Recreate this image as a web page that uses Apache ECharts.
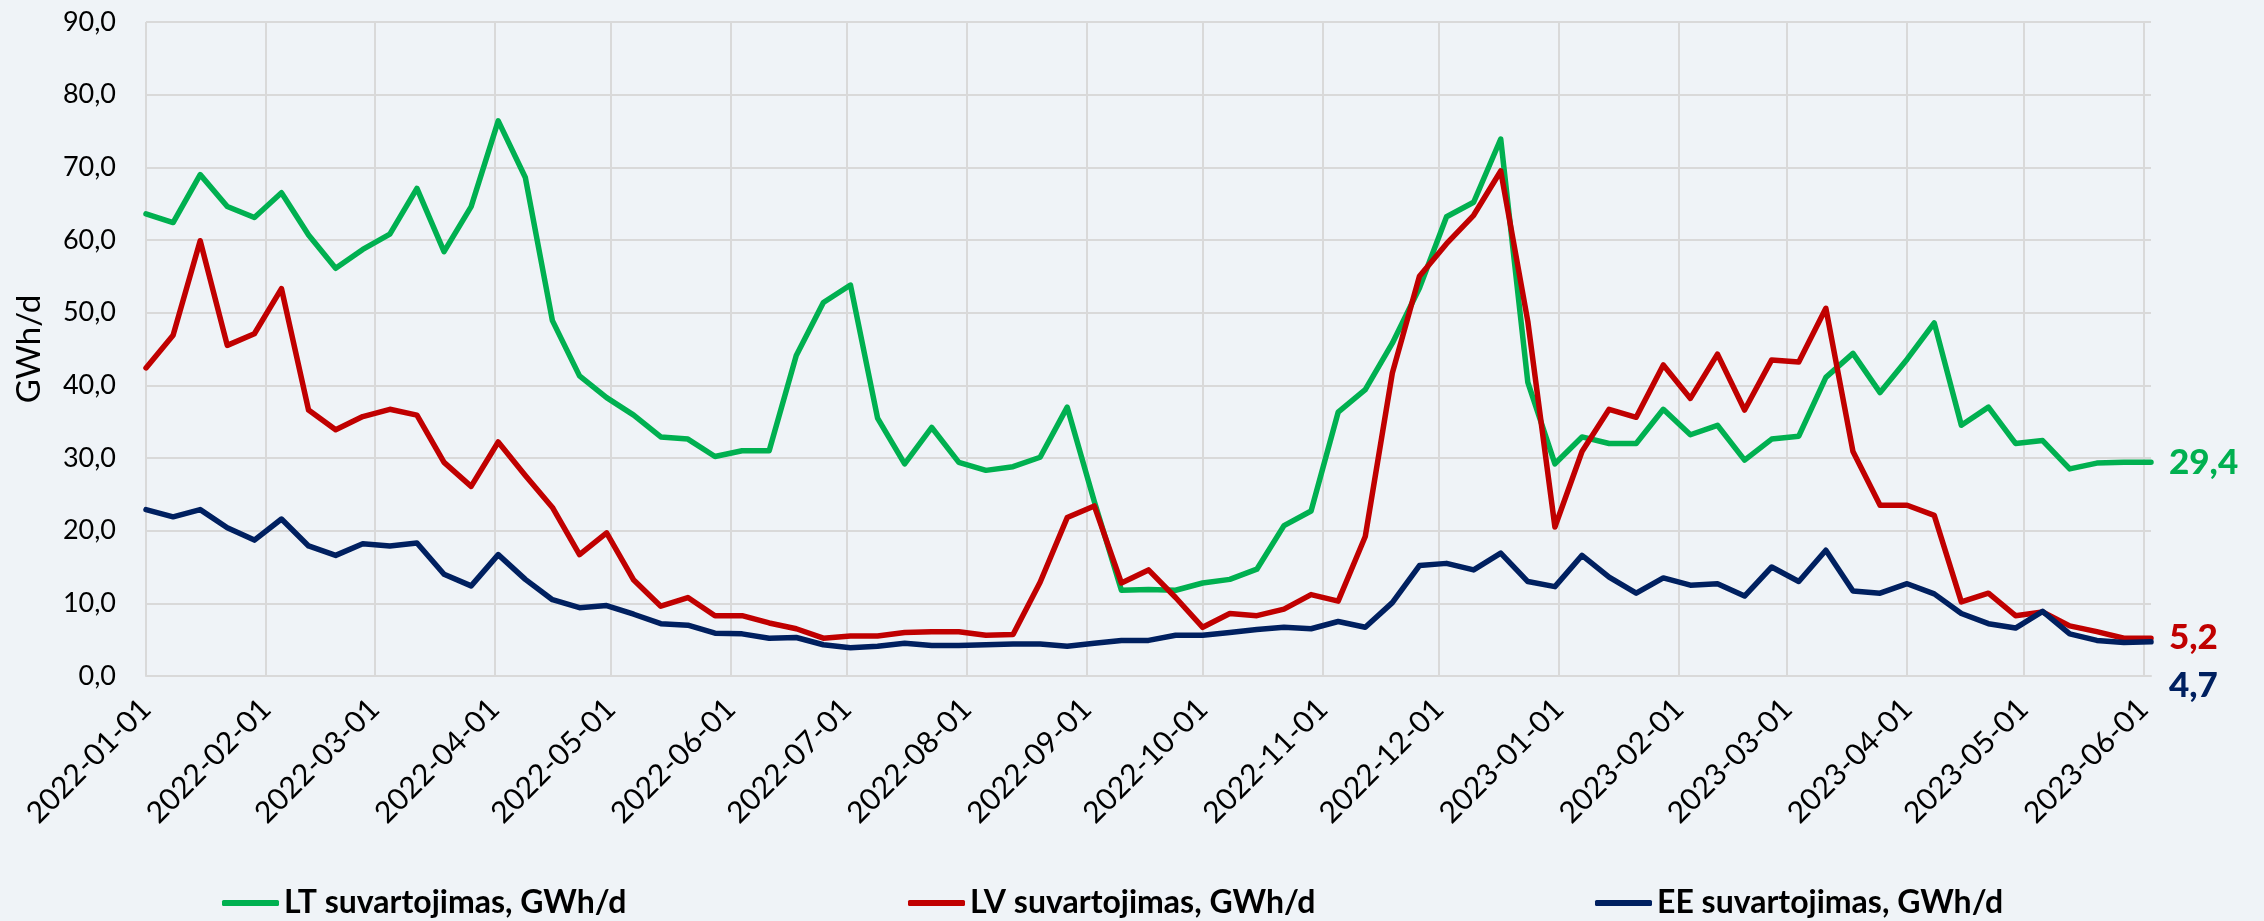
<!DOCTYPE html>
<html>
<head>
<meta charset="utf-8">
<script src="https://cdn.jsdelivr.net/npm/echarts@6/dist/echarts.min.js"></script>
<style>
html, body { margin: 0; padding: 0; background: #eff3f7; }
#chart { width: 2264px; height: 921px; }
</style>
</head>
<body>
<div id="chart"></div>
<script>
// savaitiniai duomenys
const dates = [
	'2022-01-01', '2022-01-08', '2022-01-15', '2022-01-22', '2022-01-29',
	'2022-02-05', '2022-02-12', '2022-02-19', '2022-02-26',
	'2022-03-05', '2022-03-12', '2022-03-19', '2022-03-26',
	'2022-04-02', '2022-04-09', '2022-04-16', '2022-04-23', '2022-04-30',
	'2022-05-07', '2022-05-14', '2022-05-21', '2022-05-28',
	'2022-06-04', '2022-06-11', '2022-06-18', '2022-06-25',
	'2022-07-02', '2022-07-09', '2022-07-16', '2022-07-23', '2022-07-30',
	'2022-08-06', '2022-08-13', '2022-08-20', '2022-08-27',
	'2022-09-03', '2022-09-10', '2022-09-17', '2022-09-24',
	'2022-10-01', '2022-10-08', '2022-10-15', '2022-10-22', '2022-10-29',
	'2022-11-05', '2022-11-12', '2022-11-19', '2022-11-26',
	'2022-12-03', '2022-12-10', '2022-12-17', '2022-12-24', '2022-12-31',
	'2023-01-07', '2023-01-14', '2023-01-21', '2023-01-28',
	'2023-02-04', '2023-02-11', '2023-02-18', '2023-02-25',
	'2023-03-04', '2023-03-11', '2023-03-18', '2023-03-25',
	'2023-04-01', '2023-04-08', '2023-04-15', '2023-04-22', '2023-04-29',
	'2023-05-06', '2023-05-13', '2023-05-20', '2023-05-27',
	'2023-06-03'
];
const lt = [
	63.6, 62.4, 69.0, 64.6, 63.1, 66.5, 60.7, 56.1, 58.7, 60.8,
	67.1, 58.4, 64.6, 76.4, 68.6, 48.9, 41.3, 38.3, 35.9, 32.9,
	32.6, 30.2, 31.0, 31.0, 44.1, 51.4, 53.8, 35.5, 29.2, 34.2,
	29.4, 28.3, 28.8, 30.1, 37.0, 24.0, 11.8, 11.9, 11.8, 12.8,
	13.3, 14.7, 20.7, 22.7, 36.3, 39.4, 45.8, 53.4, 63.2, 65.2,
	73.9, 40.4, 29.2, 32.9, 32.0, 32.0, 36.7, 33.2, 34.5, 29.7,
	32.6, 33.0, 41.1, 44.4, 39.0, 43.6, 48.6, 34.5, 37.0, 32.0,
	32.4, 28.5, 29.3, 29.4, 29.4
];
const lv = [
	42.4, 46.9, 59.9, 45.5, 47.1, 53.3, 36.6, 33.9, 35.7, 36.7,
	35.9, 29.4, 26.1, 32.2, 27.6, 23.2, 16.7, 19.7, 13.2, 9.6,
	10.8, 8.3, 8.3, 7.3, 6.5, 5.2, 5.5, 5.5, 6.0, 6.1,
	6.1, 5.6, 5.7, 12.9, 21.8, 23.4, 12.8, 14.6, 10.8, 6.7,
	8.6, 8.3, 9.2, 11.2, 10.3, 19.2, 41.7, 55.0, 59.5, 63.4,
	69.5, 48.8, 20.5, 30.9, 36.7, 35.6, 42.8, 38.2, 44.3, 36.6,
	43.5, 43.2, 50.6, 30.9, 23.5, 23.5, 22.1, 10.2, 11.4, 8.3,
	8.8, 6.9, 6.1, 5.2, 5.2
];
const ee = [
	22.9, 21.9, 22.9, 20.4, 18.7, 21.6, 17.9, 16.6, 18.2, 17.9,
	18.3, 14.0, 12.4, 16.7, 13.3, 10.5, 9.4, 9.7, 8.5, 7.2,
	7.0, 5.9, 5.8, 5.2, 5.3, 4.3, 3.9, 4.1, 4.5, 4.2,
	4.2, 4.3, 4.4, 4.4, 4.1, 4.5, 4.9, 4.9, 5.6, 5.6,
	6.0, 6.4, 6.7, 6.5, 7.5, 6.7, 10.1, 15.2, 15.5, 14.6,
	16.9, 13.0, 12.3, 16.6, 13.6, 11.4, 13.5, 12.5, 12.7, 11.0,
	15.0, 13.0, 17.3, 11.7, 11.4, 12.7, 11.3, 8.6, 7.2, 6.6,
	8.9, 5.8, 4.9, 4.6, 4.7
];
const names = ['LT suvartojimas, GWh/d', 'LV suvartojimas, GWh/d', 'EE suvartojimas, GWh/d'];
const colors = ['#00b050', '#c00000', '#002060'];

const font = 'Lato';
const DAY = 86400000;
const pad = n => (n < 10 ? '0' + n : '' + n);
const comma = v => v.toFixed(1).replace('.', ',');

function makeSeries(idx, values, offset) {
	return {
		name: names[idx],
		type: 'line',
		data: dates.map((d, i) => [d, values[i]]),
		showSymbol: false,
		symbol: 'none',
		lineStyle: { color: colors[idx], width: 5.5, cap: 'round', join: 'round' },
		itemStyle: { color: colors[idx] },
		endLabel: {
			show: true,
			formatter: p => comma(p.value[1]),
			color: colors[idx],
			fontFamily: font,
			fontSize: 35,
			fontWeight: 900,
			distance: 18,
			offset: offset
		}
	};
}

const chart = echarts.init(document.getElementById('chart'));
const legendLeft = [217, 903, 1590];

chart.setOption({
	animation: false,
	backgroundColor: '#eff3f7',
	grid: { left: 146, right: 113, top: 22, bottom: 245 },
	legend: names.map((n, i) => ({
		data: [n],
		left: legendLeft[i],
		top: 882,
		icon: 'roundRect',
		itemWidth: 57,
		itemHeight: 6,
		textStyle: { fontFamily: font, fontSize: 32, fontWeight: 'bold', color: '#000' }
	})),
	xAxis: {
		type: 'time',
		min: '2022-01-01',
		max: '2023-06-03',
		splitNumber: 18,
		minInterval: 28 * DAY,
		maxInterval: 31 * DAY,
		axisLine: { show: true, lineStyle: { color: '#d9d9d9', width: 2 } },
		axisTick: { show: false },
		splitLine: { show: true, showMaxLine: false, lineStyle: { color: '#d9d9d9', width: 2 } },
		axisLabel: {
			rotate: 45,
			margin: 28,
			fontFamily: font,
			fontSize: 30,
			color: '#000',
			showMaxLabel: false,
			formatter: function (val) {
				const d = new Date(val);
				if (d.getDate() !== 1) return '';
				return d.getFullYear() + '-' + pad(d.getMonth() + 1) + '-' + pad(d.getDate());
			}
		}
	},
	yAxis: {
		type: 'value',
		min: 0,
		max: 90,
		interval: 10,
		name: 'GWh/d',
		nameLocation: 'middle',
		nameGap: 100,
		nameTextStyle: { fontFamily: font, fontSize: 33, color: '#000' },
		axisLine: { show: false },
		axisTick: { show: false },
		splitLine: { lineStyle: { color: '#d9d9d9', width: 2 } },
		axisLabel: {
			margin: 30,
			fontFamily: font,
			fontSize: 27,
			color: '#000',
			formatter: v => comma(v)
		}
	},
	series: [
		makeSeries(0, lt, [0, 0]),
		makeSeries(1, lv, [0, 0]),
		makeSeries(2, ee, [0, 44])
	]
});
</script>
</body>
</html>
